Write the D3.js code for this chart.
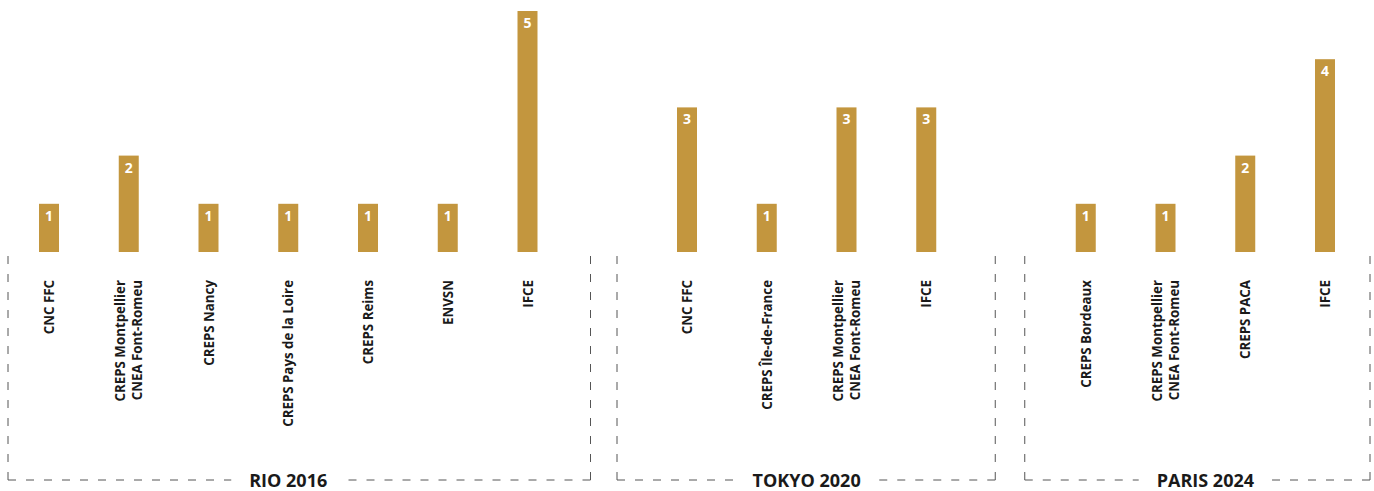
<!DOCTYPE html>
<html>
<head>
<meta charset="utf-8">
<script src="https://cdn.jsdelivr.net/npm/d3@7"></script>
<style>
  html, body { margin: 0; padding: 0; background: #ffffff; }
  svg { display: block; }
  .lbl { font-family: "Open Sans", "DejaVu Sans", sans-serif; font-weight: bold; }
</style>
</head>
<body>
<svg id="chart" width="1374" height="491"></svg>
<script>
// ---- Data ----
const groupNames = ["RIO 2016", "TOKYO 2020", "PARIS 2024"];
const rioCategories = ["CNC FFC", "CREPS Montpellier\nCNEA Font-Romeu", "CREPS Nancy", "CREPS Pays de la Loire", "CREPS Reims", "ENVSN", "IFCE"];
const rioValues = [1, 2, 1, 1, 1, 1, 5];
const tokyoCategories = ["CNC FFC", "CREPS Île-de-France", "CREPS Montpellier\nCNEA Font-Romeu", "IFCE"];
const tokyoValues = [3, 1, 3, 3];
const parisCategories = ["CREPS Bordeaux", "CREPS Montpellier\nCNEA Font-Romeu", "CREPS PACA", "IFCE"];
const parisValues = [1, 1, 2, 4];

// ---- Layout ----
const baseY = 252, topY = 11;
const barW = 20;
const color = "#C3963E";
const boxTop = 253, boxBottom = 480;
const boxPad = [[41, 63], [70, 69], [61, 45]];

const groups = [
  { name: groupNames[0], cats: rioCategories, vals: rioValues },
  { name: groupNames[1], cats: tokyoCategories, vals: tokyoValues },
  { name: groupNames[2], cats: parisCategories, vals: parisValues }
];

// build slots (with an empty slot between groups)
const slots = [];
const items = [];
groups.forEach((g, gi) => {
  if (gi > 0) slots.push("gap" + gi);
  g.cats.forEach((c, i) => {
    const key = gi + "|" + i;
    slots.push(key);
    items.push({ key, gi, cat: c, val: g.vals[i] });
  });
});

const x = d3.scalePoint().domain(slots).range([49, 1325]);
const y = d3.scaleLinear().domain([0, 5]).range([baseY, topY]);

const svg = d3.select("#chart");

// bars
svg.append("g").selectAll("rect").data(items).join("rect")
  .attr("x", d => x(d.key) - barW / 2)
  .attr("y", d => y(d.val))
  .attr("width", barW)
  .attr("height", d => y(0) - y(d.val))
  .attr("fill", color);

// value labels
svg.append("g").selectAll("text").data(items).join("text")
  .attr("class", "lbl")
  .attr("x", d => x(d.key))
  .attr("y", d => y(d.val) + 17)
  .attr("text-anchor", "middle")
  .attr("fill", "#ffffff")
  .attr("font-size", 14)
  .text(d => d.val);

// category labels (rotated)
const catG = svg.append("g");
items.forEach(d => {
  const lines = d.cat.split("\n");
  const n = lines.length;
  lines.forEach((ln, li) => {
    const cx = x(d.key) + (li - (n - 1) / 2) * 17 + 5;
    catG.append("text")
      .attr("class", "lbl")
      .attr("transform", `translate(${cx},280) rotate(-90)`)
      .attr("text-anchor", "end")
      .attr("font-size", 13.3)
      .attr("fill", "#1a1a1a")
      .text(ln);
  });
});

// group boxes
const boxG = svg.append("g");
groups.forEach((g, gi) => {
  const first = x(gi + "|0");
  const last = x(gi + "|" + (g.cats.length - 1));
  const left = first - boxPad[gi][0];
  const right = last + boxPad[gi][1];
  const mid = (first + last) / 2;
  const t = boxG.append("text")
    .attr("class", "lbl")
    .attr("x", mid)
    .attr("y", boxBottom + 7)
    .attr("text-anchor", "middle")
    .attr("font-size", 18)
    .attr("fill", "#1a1a1a")
    .text(g.name);
  const tw = t.node().getComputedTextLength();
  const gapL = mid - tw / 2 - 18, gapR = mid + tw / 2 + 18;
  const dash = "8,10";
  const seg = (p) => boxG.append("path").attr("d", p)
    .attr("fill", "none").attr("stroke", "#555").attr("stroke-width", 1)
    .attr("stroke-dasharray", dash);
  seg(`M${left},${boxBottom}V${boxTop}`);
  seg(`M${left},${boxBottom}H${gapL}`);
  seg(`M${right},${boxBottom}V${boxTop}`);
  seg(`M${right},${boxBottom}H${gapR}`);
});
</script>
</body>
</html>
